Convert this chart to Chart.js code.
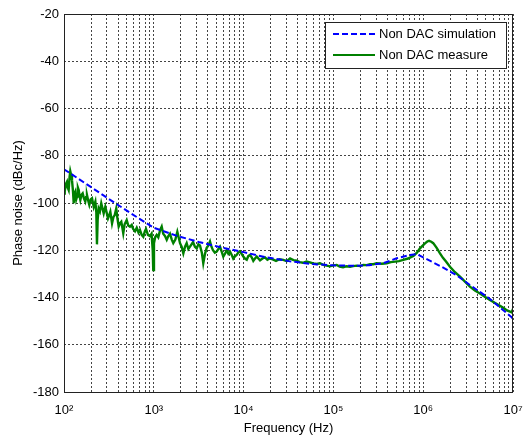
<!DOCTYPE html>
<html>
<head>
<meta charset="utf-8">
<script src="https://cdn.jsdelivr.net/npm/chart.js@4/dist/chart.umd.min.js"></script>
<style>
  html, body { margin: 0; padding: 0; background: #fff; }
  #wrap { width: 529px; height: 436px; }
</style>
</head>
<body>
<div id="wrap"><canvas id="pn"></canvas></div>
<script>
// frequencies are kept as log10(Hz)
const simLogF = [2.0, 2.25, 2.5, 2.75, 3.0, 3.25, 3.5, 3.75, 4.0, 4.25, 4.5, 4.75, 5.0, 5.25, 5.4,
  5.556, 5.705, 5.853, 5.93, 6.04, 6.19, 6.37, 6.52, 6.74, 6.985, 7.0];
const simDb = [-85.7, -92, -98.3, -104.5, -110.5, -113.8, -116.5, -118.8, -120.8, -123, -124.6, -125.8, -126.4, -126.6, -126.3,
  -125.5, -123.4, -122, -121.6, -123.8, -126.7, -130.5, -134.7, -140.5, -148.4, -149];

const measLogF = [2.000, 2.008, 2.020, 2.033, 2.042, 2.052, 2.062, 2.070, 2.079, 2.089, 2.100, 2.108, 2.117, 2.126, 2.136,
  2.145, 2.155, 2.164, 2.173, 2.182, 2.195, 2.208, 2.222, 2.237, 2.246, 2.256, 2.270, 2.282, 2.297, 2.312,
  2.331, 2.349, 2.360, 2.367, 2.375, 2.386, 2.400, 2.415, 2.430, 2.442, 2.460, 2.475, 2.490, 2.505, 2.516,
  2.535, 2.550, 2.565, 2.582, 2.595, 2.609, 2.625, 2.638, 2.650, 2.660, 2.675, 2.698, 2.715, 2.735, 2.754,
  2.770, 2.791, 2.810, 2.830, 2.846, 2.865, 2.883, 2.900, 2.913, 2.935, 2.958, 2.975, 2.988, 2.994, 3.002,
  3.015, 3.032, 3.050, 3.070, 3.088, 3.105, 3.125, 3.144, 3.162, 3.180, 3.200, 3.217, 3.240, 3.262, 3.280,
  3.292, 3.310, 3.329, 3.348, 3.366, 3.385, 3.403, 3.420, 3.437, 3.458, 3.478, 3.496, 3.514, 3.535, 3.551,
  3.570, 3.589, 3.608, 3.626, 3.642, 3.659, 3.680, 3.700, 3.718, 3.737, 3.755, 3.774, 3.793, 3.812, 3.830,
  3.849, 3.868, 3.885, 3.905, 3.923, 3.940, 3.960, 3.978, 3.997, 4.015, 4.035, 4.052, 4.071, 4.090, 4.108,
  4.127, 4.146, 4.165, 4.183, 4.210, 4.238, 4.265, 4.294, 4.330, 4.361, 4.400, 4.442, 4.480, 4.517, 4.555,
  4.591, 4.625, 4.661, 4.700, 4.739, 4.775, 4.814, 4.850, 4.888, 4.925, 4.962, 5.000, 5.037, 5.070, 5.107,
  5.145, 5.185, 5.220, 5.259, 5.295, 5.333, 5.370, 5.408, 5.445, 5.482, 5.540, 5.594, 5.640, 5.686, 5.730,
  5.778, 5.831, 5.890, 5.930, 5.964, 6.000, 6.020, 6.045, 6.065, 6.090, 6.112, 6.150, 6.187, 6.220, 6.254,
  6.298, 6.354, 6.410, 6.465, 6.520, 6.576, 6.632, 6.690, 6.743, 6.800, 6.855, 6.900, 6.933, 6.967, 6.985,
  7.000];
const measDb = [-96, -95.2, -92, -91, -93.5, -94.5, -89, -86.5, -88, -90.3, -95, -100.1, -96, -95.2, -98.5,
  -97.3, -93.5, -94.5, -97, -98.7, -96.5, -95.9, -98, -99.4, -97.5, -96.6, -99, -100.8, -98.5, -98,
  -101.6, -99.4, -104, -117.5, -107, -102.3, -103.5, -100.1, -102.5, -104.4, -101.6, -104, -106.5, -105, -103.7,
  -108.6, -106, -105.1, -102.3, -106.5, -110, -108.5, -107.9, -110.5, -112.8, -109, -107.2, -109.5, -110, -109.3,
  -111, -112, -110.5, -112.5, -111.4, -113.5, -114.3, -112, -111, -113.5, -114, -113, -120, -128.4, -117,
  -114.5, -113.5, -114.5, -111.5, -110, -113, -114, -115.6, -114, -113, -115.5, -117, -115.5, -112.2, -115,
  -117, -118.5, -121.3, -118.5, -117, -119.5, -118.5, -117.5, -116.5, -118.5, -119.2, -117.5, -118, -121, -125.5,
  -121.5, -119, -118, -116.3, -118.5, -120, -121, -120.6, -119.5, -118.5, -120.5, -122.7, -121.5, -120, -121.5,
  -120.6, -122, -123.5, -122.5, -122, -121, -120.5, -121.5, -122.7, -123.5, -124, -122.5, -122, -123, -124.5,
  -123.5, -122.7, -123.5, -124.3, -123.5, -123, -124, -123.4, -124, -124.5, -123.8, -124.1, -124.6, -123.5, -124.2,
  -124.4, -125, -125.3, -124.8, -125.1, -125.6, -125.8, -125.5, -126.2, -126.5, -126.8, -126.4, -126.2, -126.9, -127.2,
  -126.8, -127, -126.7, -126.5, -126.7, -126.2, -126.3, -125.9, -125.9, -125.5, -125.7, -125.5, -125, -124.8, -124.6,
  -124.1, -123.5, -122.4, -121, -119.2, -117.8, -117.1, -116.3, -116, -116.4, -117, -119, -121.3, -123.2, -124.8,
  -127, -129.3, -131.2, -133.3, -135.4, -137, -138.3, -139.8, -141, -142.3, -143.5, -144.6, -145.5, -146, -146.3,
  -144.8];

const xMajor = [1e2, 1e3, 1e4, 1e5, 1e6, 1e7];
const xTickLabels = ['10\u00B2', '10\u00B3', '10\u2074', '10\u2075', '10\u2076', '10\u2077'];
const legendLabels = ['Non DAC simulation', 'Non DAC measure'];

const FONT = '"Liberation Sans", Arial, sans-serif';
Chart.defaults.font.family = FONT;
Chart.defaults.font.size = 13;
Chart.defaults.color = '#000';

const toPoints = (lf, db) => lf.map((v, i) => ({ x: Math.pow(10, v), y: db[i] }));

// matlab style box + legend inside the axes
const boxLegend = {
  id: 'boxLegend',
  afterDraw(chart) {
    const { ctx, chartArea: a } = chart;
    ctx.save();
    ctx.strokeStyle = '#222';
    ctx.lineWidth = 1;
    ctx.setLineDash([]);
    ctx.strokeRect(Math.round(a.left) + 0.5, Math.round(a.top) + 0.5,
      Math.round(a.right - a.left) - 1, Math.round(a.bottom - a.top));

    const lx = 325, ly = 22, lw = 181, lh = 46;
    ctx.fillStyle = '#fff';
    ctx.fillRect(lx, ly, lw, lh);
    ctx.strokeStyle = '#222';
    ctx.strokeRect(lx + 0.5, ly + 0.5, lw, lh);
    const rows = [34, 55];
    chart.data.datasets.forEach((ds, i) => {
      ctx.beginPath();
      ctx.strokeStyle = ds.borderColor;
      ctx.lineWidth = 2;
      ctx.setLineDash(ds.borderDash || []);
      ctx.moveTo(333, rows[i]);
      ctx.lineTo(375, rows[i]);
      ctx.stroke();
      ctx.setLineDash([]);
      ctx.fillStyle = '#000';
      ctx.font = '13px ' + FONT;
      ctx.textBaseline = 'middle';
      ctx.fillText(ds.label, 379, rows[i]);
    });
    ctx.restore();
  }
};

new Chart(document.getElementById('pn'), {
  type: 'line',
  data: {
    datasets: [{
      label: legendLabels[0],
      data: toPoints(simLogF, simDb),
      borderColor: '#0000ff',
      borderWidth: 2,
      borderDash: [6, 3],
      pointRadius: 0,
      tension: 0
    }, {
      label: legendLabels[1],
      data: toPoints(measLogF, measDb),
      borderColor: '#008000',
      borderWidth: 2.4,
      pointRadius: 0,
      tension: 0
    }]
  },
  options: {
    responsive: true,
    maintainAspectRatio: false,
    animation: false,
    layout: { padding: { top: 14, right: 16, left: 0, bottom: 0 } },
    plugins: { legend: { display: false }, tooltip: { enabled: false } },
    scales: {
      x: {
        type: 'logarithmic',
        min: 1e2,
        max: 1e7,
        afterBuildTicks: scale => {
          const t = [];
          for (let e = 2; e < 7; e++) {
            for (let m = 1; m < 10; m++) t.push({ value: m * Math.pow(10, e) });
          }
          t.push({ value: 1e7 });
          scale.ticks = t;
        },
        afterFit: scale => {
          scale.height = 44;
          scale.paddingLeft = 0;
          scale.paddingRight = 0;
        },
        ticks: {
          autoSkip: false,
          maxRotation: 0,
          padding: 11,
          callback: v => {
            const i = xMajor.findIndex(m => Math.abs(m - v) < 1e-6 * m);
            return i >= 0 ? xTickLabels[i] : '';
          }
        },
        grid: { color: '#444', drawTicks: false },
        border: { display: false, dash: [2, 2] },
        title: { display: true, text: 'Frequency (Hz)', padding: { top: 0, bottom: 0 } }
      },
      y: {
        min: -180,
        max: -20,
        afterFit: scale => { scale.width = 64; },
        ticks: { stepSize: 20, padding: 5 },
        grid: { color: '#444', drawTicks: false },
        border: { display: false, dash: [2, 2] },
        title: { display: true, text: 'Phase noise (dBc/Hz)', padding: { top: 11, bottom: 0 } }
      }
    }
  },
  plugins: [boxLegend]
});
</script>
</body>
</html>
